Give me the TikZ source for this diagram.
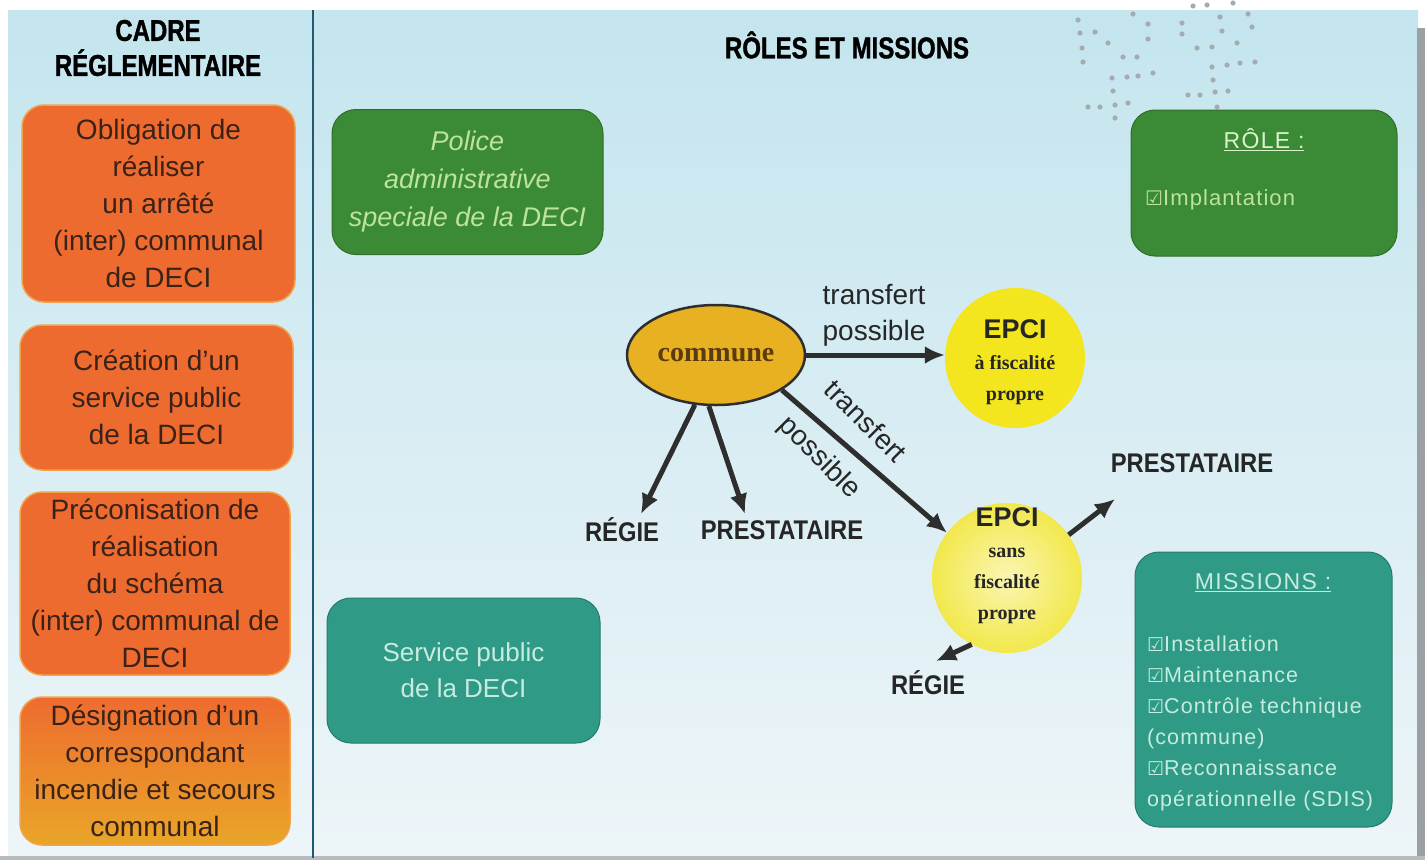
\documentclass[tikz,border=0pt]{standalone}
\usepackage{fontspec}
\setmainfont{Liberation Sans}
\newfontfamily\titlef[FakeStretch=0.8,FakeBold=1.2]{Liberation Sans}
\newfontfamily\labelf[FakeStretch=0.88]{Liberation Sans}
\newfontfamily\spacedf[LetterSpace=6]{Liberation Sans}
\newfontfamily\itemf[LetterSpace=5]{Liberation Sans}
\newfontfamily\serifb{Liberation Serif}
\newfontfamily\symf{DejaVu Sans}
\usetikzlibrary{shapes.geometric,arrows.meta}
\definecolor{bgtop}{HTML}{C4E5EE}
\definecolor{bgbot}{HTML}{EDF5F8}
\definecolor{orangeF}{HTML}{EE6B2F}
\definecolor{orangeE}{HTML}{F2A24A}
\definecolor{orangeY}{HTML}{E9A628}
\definecolor{otext}{HTML}{3A2219}
\definecolor{greenF}{HTML}{3B8A35}
\definecolor{greenL}{HTML}{4FA241}
\definecolor{greenT}{HTML}{BDE39C}
\definecolor{greenTT}{HTML}{DDF2CC}
\definecolor{tealF}{HTML}{2F9A86}
\definecolor{tealL}{HTML}{38A390}
\definecolor{tealT}{HTML}{C6ECDF}
\definecolor{yel1}{HTML}{F3E61E}
\definecolor{yelin}{HTML}{FAF6B2}
\definecolor{yelout}{HTML}{F2E84C}
\definecolor{gold}{HTML}{E7B121}
\definecolor{goldtxt}{HTML}{5A3A0E}
\definecolor{arrc}{HTML}{2E2E2E}
\definecolor{vline}{HTML}{1E5A78}
\definecolor{dotc}{HTML}{A3ACAE}
\definecolor{edgegray}{HTML}{9AA0A3}
\tikzset{
  obox/.style={rounded corners=22pt, top color=orangeF, bottom color=orangeF, draw=orangeE, line width=1.5pt,
    align=center, text=otext, font=\fontsize{28}{37}\selectfont, inner sep=0pt},
  gbox/.style={rounded corners=24pt, top color=greenF, middle color=greenL, bottom color=greenF, draw=greenF!80!black, line width=1pt,
    align=center, inner sep=0pt},
  tbox/.style={rounded corners=24pt, top color=tealF, middle color=tealL, bottom color=tealF, draw=tealF!80!black, line width=1pt,
    align=center, inner sep=0pt},
  heading/.style={font=\titlef\bfseries\fontsize{30}{35}\selectfont, text=black, align=center},
  lab/.style={font=\labelf\bfseries\fontsize{27}{32}\selectfont, text=black!85},
  trans/.style={font=\fontsize{28}{36}\selectfont, text=black!85, align=center},
  arr/.style={draw=arrc, line width=5pt, -{Latex[length=20pt,width=18pt]}},
  epcitxt/.style={align=center, inner sep=0pt, font=\serifb\bfseries\fontsize{20}{31}\selectfont, text=black!85}
}
\begin{document}
\begin{tikzpicture}[x=1pt,y=-1pt]
\useasboundingbox (0,0) rectangle (1425,860);
\fill[white] (0,0) rectangle (1425,860);
\shade[top color=bgtop, bottom color=bgbot] (8,10) rectangle (1418,856);
\fill[edgegray] (1417,28) rectangle (1425,860);
\fill[edgegray!70] (0,856) rectangle (1425,860);
\draw[vline, line width=2.5pt] (313,10) -- (313,858);

% decorative dots
\foreach \px/\py in {1078/20,1133/14,1193/6,1207/5,1233/3,1080/33,1095/32,1148/24,1182/23,1220/17,1248/14,
  1082/48,1108/43,1148/39,1182/34,1222/31,1252/27,1083/62,1123/57,1137/57,1197/48,1212/47,1237/43,
  1112/78,1127/77,1138/76,1153/73,1212/67,1227/65,1240/63,1255/62,1213/80,
  1113/91,1188/95,1200/95,1215/92,1228/91,1088/107,1100/107,1115/105,1128/103,1217/107,1115/118}
  \fill[dotc] (\px,\py) circle (2.6pt);

% left panel
\node[heading] (cadre) at (158,48) {CADRE\\RÉGLEMENTAIRE};
\node[obox, minimum width=273pt, minimum height=197pt] (o1) at (158.5,203.5)
  {Obligation de\\réaliser\\un arrêté\\(inter) communal\\de DECI};
\node[obox, minimum width=273pt, minimum height=145pt] (o2) at (156.5,397.5)
  {Création d'un\\service public\\de la DECI};
\node[obox, minimum width=270pt, minimum height=183pt] (o3) at (155,583.5)
  {Préconisation de\\réalisation\\du schéma\\(inter) communal de\\DECI};
\node[obox, top color=orangeF, middle color=orangeF, bottom color=orangeY, minimum width=270pt, minimum height=148pt] (o4) at (155,771)
  {Désignation d'un\\correspondant\\incendie et secours\\communal};

% right panel
\node[heading] (roles) at (847,45) {RÔLES ET MISSIONS};
\node[gbox, minimum width=271pt, minimum height=145pt, text=greenT, font=\itshape\fontsize{27}{38}\selectfont] (police) at (467.5,182)
  {Police\\administrative\\speciale de la DECI};
\node[tbox, minimum width=273pt, minimum height=145pt, text=tealT, font=\fontsize{26}{36}\selectfont] (service) at (463.5,670.5)
  {Service public\\de la DECI};

\node[gbox, minimum width=266pt, minimum height=146pt] (rolebox) at (1264,183) {};
\node[font=\spacedf\fontsize{23}{28}\selectfont, text=greenTT] (roletitle) at (1264,140) {\underline{RÔLE :}};
\node[anchor=west, font=\itemf\fontsize{22}{28}\selectfont, text=greenT, inner sep=0pt] (roleitem) at (1145,200)
  {{\symf\fontsize{20}{28}\selectfont ☑}Implantation};

\node[tbox, minimum width=257pt, minimum height=275pt] (missbox) at (1263.5,689.5) {};
\node[font=\spacedf\fontsize{23}{28}\selectfont, text=tealT] (misstitle) at (1263,583) {\underline{MISSIONS :}};
\node[anchor=north west, align=left, font=\itemf\fontsize{21.5}{31}\selectfont, text=tealT, inner sep=0pt] (missitems) at (1147,636)
  {{\symf\fontsize{19}{31}\selectfont ☑}Installation\\
   {\symf\fontsize{19}{31}\selectfont ☑}Maintenance\\
   {\symf\fontsize{19}{31}\selectfont ☑}Contrôle technique\\
   (commune)\\
   {\symf\fontsize{19}{31}\selectfont ☑}Reconnaissance\\
   opérationnelle (SDIS)};

% central diagram
\node[ellipse, draw=arrc, line width=2.5pt, fill=gold, minimum width=178pt, minimum height=100pt, inner sep=0pt,
  font=\serifb\bfseries\fontsize{28}{30}\selectfont, text=goldtxt] (commune) at (716,355) {commune};
\node[circle, fill=yel1, minimum size=140pt, inner sep=0pt] (epci1) at (1015,358) {};
\node[epcitxt] (epci1txt) at (1015,362)
  {{\normalfont\bfseries\fontsize{27}{31}\selectfont EPCI}\\à fiscalité\\propre};
\node[circle, inner color=yelin, outer color=yelout, minimum size=150pt, inner sep=0pt] (epci2) at (1007,578) {};
\node[epcitxt] (epci2txt) at (1007,566)
  {{\normalfont\bfseries\fontsize{27}{31}\selectfont EPCI}\\sans\\fiscalité\\propre};

\node[lab] (regie1) at (622,530) {RÉGIE};
\node[lab] (presta1) at (782,530) {PRESTATAIRE};
\node[lab] (presta2) at (1192,463) {PRESTATAIRE};
\node[lab] (regie2) at (928,683) {RÉGIE};

\node[trans] (t1) at (874,315) {transfert\\possible};
\node[trans, rotate=-45, inner sep=0pt] (t2) at (866,421) {transfert};
\node[trans, rotate=-45, inner sep=0pt] (t3) at (819,458) {possible};

\coordinate (tipR1) at (641,514);
\coordinate (tipP1) at (745,514);
\coordinate (tipP2) at (1115,499);
\coordinate (tipR2) at (936,661);

\draw[arr] (commune.east) -- (commune.east -| epci1.west);
\draw[arr] (commune.-28) -- (epci2.143);
\draw[arr] (commune.-113) -- (tipR1);
\draw[arr] (commune.-98) -- (tipP1);
\draw[arr] (epci2.35) -- (tipP2);
\draw[arr] (epci2.-118) -- (tipR2);
\end{tikzpicture}
\end{document}
